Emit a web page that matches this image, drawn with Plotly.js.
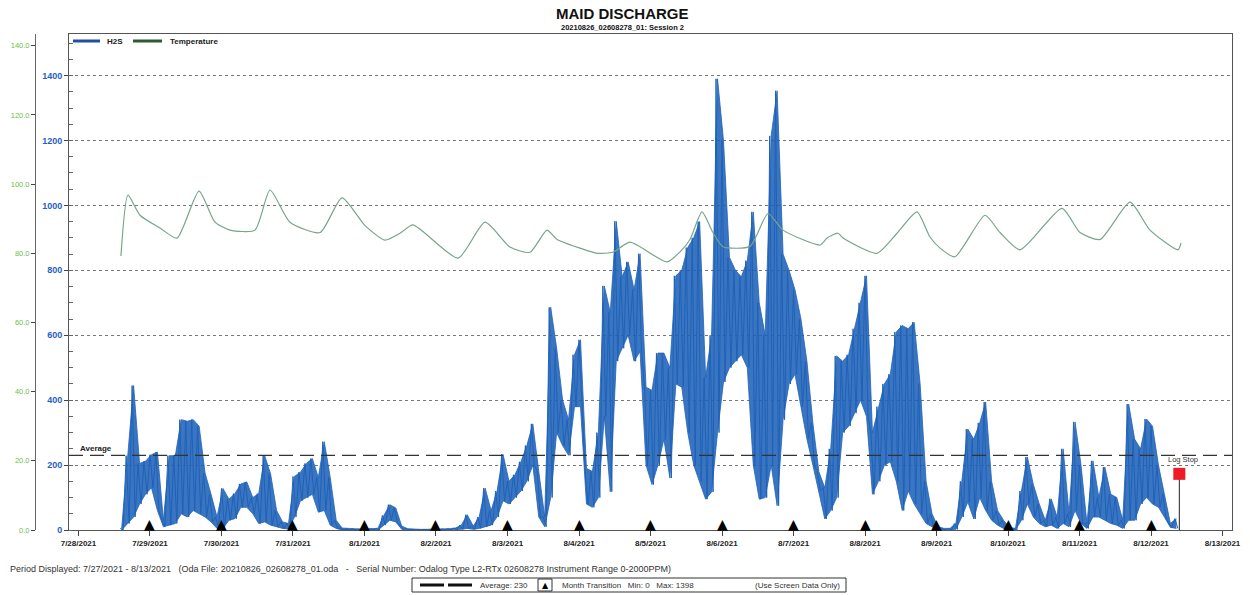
<!DOCTYPE html>
<html><head><meta charset="utf-8">
<script src="https://cdn.plot.ly/plotly-3.0.1.min.js"></script>
<style>html,body{margin:0;padding:0;background:#fff;} #chart{width:1250px;height:595px;}</style>
</head><body><div id="chart"></div>
<script>
// ---------- DATA ----------
// H2S readings: for each 2-hour window starting 7/28/2021 14:00, the high and low of the trace (ppm)
const h2sStart = Date.UTC(2021, 6, 28, 14, 0);
const h2sStepHours = 2;
const h2sHigh = [
  5, 229, 445, 205, 212,                                   // 7/28 14h-22h
  232, 240, 30, 229, 229, 340, 335, 340, 320, 175, 110, 40, // 7/29
  128, 95, 112, 142, 148, 100, 112, 229, 172, 60, 25, 20,   // 7/30
  165, 178, 205, 220, 162, 272, 162, 30, 6, 4, 4, 3,        // 7/31
  3, 4, 5, 45, 78, 68, 12, 4, 2, 2, 2, 2,                   // 8/1
  3, 3, 4, 6, 15, 47, 12, 40, 129, 60, 120, 233,            // 8/2
  150, 170, 210, 260, 327, 180, 40, 686, 560, 400, 340, 540, // 8/3
  586, 190, 180, 300, 752, 670, 951, 780, 826, 740, 851, 440, // 8/4
  430, 545, 545, 500, 783, 800, 870, 900, 950, 470, 600, 1390, // 8/5
  1200, 840, 800, 780, 830, 980, 700, 600, 1214, 1353, 850, 800, // 8/6
  740, 650, 520, 330, 180, 130, 250, 536, 520, 540, 620, 700, // 8/7
  783, 300, 380, 450, 480, 610, 630, 620, 640, 450, 150, 50,  // 8/8
  10, 5, 5, 20, 150, 311, 280, 330, 394, 150, 60, 30,         // 8/9
  8, 5, 120, 225, 140, 80, 30, 96, 40, 250, 50, 333,          // 8/10
  200, 20, 213, 100, 194, 110, 100, 30, 388, 280, 250, 342,   // 8/11
  320, 200, 110, 20, 35                                       // 8/12 0h-8h
];
const h2sLow = [
  0, 20, 40, 80, 110,
  130, 60, 10, 15, 20, 50, 40, 60, 50, 40, 25, 5,
  5, 30, 35, 70, 70, 50, 20, 25, 15, 10, 5, 3,
  40, 90, 100, 110, 55, 60, 15, 5, 0, 0, 0, 0,
  0, 0, 0, 15, 30, 25, 2, 0, 0, 0, 0, 0,
  0, 0, 0, 0, 2, 5, 2, 5, 10, 15, 40, 90,
  80, 100, 120, 150, 200, 40, 10, 100, 300, 260, 230, 380,
  380, 80, 70, 100, 350, 118, 520, 560, 600, 520, 550, 200,
  140, 200, 280, 160, 450, 440, 300, 200, 150, 95, 117, 300,
  456, 500, 520, 540, 500, 200, 95, 100, 200, 75, 340, 450,
  480, 380, 280, 200, 120, 34, 60, 100, 300, 320, 360, 400,
  350, 110, 150, 200, 210, 150, 60, 120, 80, 50, 20, 10,
  0, 0, 0, 2, 40, 86, 34, 100, 60, 30, 15, 5,
  0, 0, 30, 80, 40, 20, 10, 15, 5, 20, 10, 60,
  20, 5, 40, 40, 30, 20, 15, 5, 30, 30, 80, 100,
  80, 70, 40, 8, 5
];

// Temperature trace (green scale drawn on the far left)
const tempTimes = [
  '2021-07-28 14:15','2021-07-28 16:37','2021-07-28 20:38','2021-07-29 03:21','2021-07-29 09:04',
  '2021-07-29 16:27','2021-07-29 21:49','2021-07-30 02:51','2021-07-30 11:15','2021-07-30 16:17',
  '2021-07-30 23:00','2021-07-31 09:04','2021-07-31 16:27','2021-08-01 00:10','2021-08-01 06:53',
  '2021-08-01 11:56','2021-08-01 16:16','2021-08-02 07:24','2021-08-02 16:27','2021-08-03 00:50',
  '2021-08-03 07:34','2021-08-03 13:15','2021-08-03 16:37','2021-08-04 00:20','2021-08-04 06:03',
  '2021-08-04 11:25','2021-08-04 17:07','2021-08-05 05:32','2021-08-05 10:00','2021-08-05 13:15',
  '2021-08-05 17:17','2021-08-05 20:58','2021-08-06 00:20','2021-08-06 09:24','2021-08-06 15:26',
  '2021-08-06 20:28','2021-08-07 08:54','2021-08-07 11:15','2021-08-07 14:56','2021-08-07 16:37',
  '2021-08-08 04:02','2021-08-08 10:45','2021-08-08 17:27','2021-08-08 21:49','2021-08-09 01:11',
  '2021-08-09 06:13','2021-08-09 16:17','2021-08-09 21:18','2021-08-10 04:02','2021-08-10 18:07',
  '2021-08-11 00:10','2021-08-11 06:53','2021-08-11 16:57','2021-08-11 23:40','2021-08-12 09:04',
  '2021-08-12 10:05'
];
const tempValues = [
  79.2, 96.8, 91, 87.3, 84.4,
  98, 89, 86.7, 86.7, 98.3,
  89, 86, 96, 88, 83.8,
  85.8, 88.2, 78.6, 89, 81.8,
  80.3, 86.7, 84, 81.5, 80,
  80.3, 83.2, 77.5, 80.5, 84,
  92, 86, 81.9, 82, 91.5,
  86.7, 82.4, 84.4, 85.8, 84.4,
  80, 85.8, 92, 84.7, 81.5,
  79, 91, 86, 81, 93,
  86, 84, 94.8, 86.7, 81,
  83
];

const transitionDates = ['2021-07-29','2021-07-30','2021-07-31','2021-08-01','2021-08-02','2021-08-03',
  '2021-08-04','2021-08-05','2021-08-06','2021-08-07','2021-08-08','2021-08-09','2021-08-10',
  '2021-08-11','2021-08-12'];
const averageH2S = 230;
const minH2S = 0;
const maxH2S = 1398;
const logStopTime = ['2021-08-12 09:30'];
const logStopValue = [173];

// ---------- BUILD ----------
const fmt = ms => new Date(ms).toISOString().slice(0, 19).replace('T', ' ');
const zigX = [], zigY = [], bandX = [];
for (let i = 0; i < h2sHigh.length; i++) {
  const t = h2sStart + i * h2sStepHours * 3600000;
  bandX.push(fmt(t + 1800000));
  zigX.push(fmt(t)); zigY.push(h2sHigh[i]);
  zigX.push(fmt(t + 3600000)); zigY.push(h2sLow[i]);
}

const W = 1250, H = 595, L = 35, R = 18, T = 34, B = 65;
const PW = W - L - R, PH = H - T - B;
const px = v => (v - L) / PW;
const py = v => (H - B - v) / PH;
const FONT = 'Arial, "Liberation Sans", sans-serif';
const xDomStart = px(69);
const BLUE = '#1f62b8';

const traces = [
  { x: bandX, y: h2sLow, type: 'scatter', mode: 'lines', line: { color: BLUE, width: 0.8 },
    showlegend: false, hoverinfo: 'skip' },
  { x: bandX, y: h2sHigh, type: 'scatter', mode: 'lines', line: { color: BLUE, width: 0.8 },
    fill: 'tonexty', fillcolor: 'rgba(31,98,184,0.88)', showlegend: false, hoverinfo: 'skip' },
  { x: zigX, y: zigY, type: 'scatter', mode: 'lines', name: 'H2S',
    line: { color: BLUE, width: 1 }, showlegend: false, hoverinfo: 'skip' },
  { x: tempTimes, y: tempValues, yaxis: 'y2', type: 'scatter', mode: 'lines', name: 'Temperature',
    line: { color: '#76a58a', width: 1.2, shape: 'spline', smoothing: 0.6 }, showlegend: false },
  { x: [logStopTime[0], logStopTime[0]], y: [0, logStopValue[0]], type: 'scatter', mode: 'lines',
    line: { color: '#222', width: 1 }, showlegend: false },
  { x: logStopTime, y: logStopValue, type: 'scatter', mode: 'markers',
    marker: { symbol: 'square', size: 12, color: '#ee1c25' }, showlegend: false }
];

const A = (text, x, y, size, extra) => Object.assign({
  text, xref: 'paper', yref: 'paper', x: px(x), y: py(y), showarrow: false,
  xanchor: 'left', yanchor: 'middle', font: { family: FONT, size, color: '#222' }
}, extra || {});

const annotations = [
  A('MAID DISCHARGE', 622, 13, 15, { xanchor: 'center', font: { family: FONT, size: 15, color: '#111', weight: 'bold' } }),
  A('20210826_02608278_01: Session 2', 622, 28, 7.5, { xanchor: 'center', font: { family: FONT, size: 7.5, color: '#111', weight: 'bold' } }),
  A('H2S', 105, 41, 8, { font: { family: FONT, size: 8, color: '#222', weight: 'bold' } }),
  A('Temperature', 168, 41, 8, { font: { family: FONT, size: 8, color: '#222', weight: 'bold' } }),
  { text: 'Average', xref: 'paper', yref: 'y', x: px(78), y: averageH2S, xanchor: 'left', yanchor: 'bottom',
    showarrow: false, font: { family: FONT, size: 8, color: '#222', weight: 'bold' } },
  { text: 'Log Stop', xref: 'x', yref: 'y', x: logStopTime[0], y: logStopValue[0], yanchor: 'bottom', yshift: 8,
    xshift: 4, showarrow: false, font: { family: FONT, size: 7.5, color: '#333' } },
  A('Period Displayed: 7/27/2021 - 8/13/2021   (Oda File: 20210826_02608278_01.oda   -   Serial Number: Odalog Type L2-RTx 02608278 Instrument Range 0-2000PPM)',
    8, 569, 9, { font: { family: FONT, size: 9, color: '#333' } }),
  A('Average: ' + averageH2S, 478, 585, 8, { font: { family: FONT, size: 8, color: '#333' } }),
  A('▲', 545, 585, 8, { xanchor: 'center', font: { family: 'DejaVu Sans', size: 8, color: '#000' } }),
  A('Month Transition   Min: ' + minH2S + '   Max: ' + maxH2S, 560, 585, 8, { font: { family: FONT, size: 8, color: '#333' } }),
  A('(Use Screen Data Only)', 842, 585, 8, { xanchor: 'right', font: { family: FONT, size: 8, color: '#333' } })
];
transitionDates.forEach(d => annotations.push({
  text: '▲', xref: 'x', yref: 'y', x: d, y: 0, yanchor: 'bottom', yshift: -4, showarrow: false,
  font: { family: 'DejaVu Sans', size: 14, color: '#000' }
}));

const shapes = [
  { type: 'line', xref: 'paper', yref: 'y', x0: xDomStart, x1: 1, y0: averageH2S, y1: averageH2S,
    line: { color: '#333', width: 1.3, dash: '14px,7px' } },
  { type: 'line', xref: 'paper', yref: 'paper', x0: px(73), x1: px(100), y0: py(41), y1: py(41),
    line: { color: '#1f4f9f', width: 3 } },
  { type: 'line', xref: 'paper', yref: 'paper', x0: px(133), x1: px(162), y0: py(41), y1: py(41),
    line: { color: '#2f5a2f', width: 3 } },
  { type: 'rect', xref: 'paper', yref: 'paper', x0: px(412), x1: px(846), y0: py(578), y1: py(592),
    line: { color: '#333', width: 1 } },
  { type: 'line', xref: 'paper', yref: 'paper', x0: px(420), x1: px(444), y0: py(585), y1: py(585),
    line: { color: '#111', width: 3 } },
  { type: 'line', xref: 'paper', yref: 'paper', x0: px(448), x1: px(472), y0: py(585), y1: py(585),
    line: { color: '#111', width: 3 } },
  { type: 'rect', xref: 'paper', yref: 'paper', x0: px(538), x1: px(552), y0: py(579), y1: py(591),
    line: { color: '#333', width: 1 } }
];

const layout = {
  width: W, height: H,
  margin: { l: L, r: R, t: T, b: B },
  paper_bgcolor: '#fff', plot_bgcolor: '#fff',
  font: { family: FONT, size: 8, color: '#222' },
  showlegend: false,
  xaxis: {
    type: 'date', domain: [xDomStart, 1],
    range: ['2021-07-27 20:49', '2021-08-13 03:11'],
    tick0: '2021-07-28', dtick: 86400000, tickformat: '%-m/%-d/%Y',
    ticks: 'outside', ticklen: 5, tickcolor: '#444',
    showline: true, mirror: true, linecolor: '#555', linewidth: 1,
    showgrid: false, zeroline: false,
    tickfont: { family: FONT, size: 8, color: '#222', weight: 'bold' }
  },
  yaxis: {
    range: [0, 1528], dtick: 200, tick0: 0,
    ticks: 'outside', ticklen: 4, tickcolor: '#444',
    showline: true, mirror: true, linecolor: '#555', linewidth: 1,
    showgrid: true, gridcolor: '#777', griddash: 'dot', gridwidth: 1,
    zeroline: false,
    minor: { dtick: 50, ticks: 'inside', ticklen: 4, tickcolor: '#666', showgrid: false },
    tickfont: { family: FONT, size: 9, color: '#1f5fc8', weight: 'bold' }
  },
  yaxis2: {
    overlaying: 'y', anchor: 'free', position: 0, side: 'left',
    range: [0, 143.4], dtick: 20, tick0: 0, tickformat: '.1f',
    ticks: 'outside', ticklen: 4, tickcolor: '#444',
    showline: true, linecolor: '#666', linewidth: 1,
    showgrid: false, zeroline: false,
    tickfont: { family: FONT, size: 7.5, color: '#6cc04a' }
  },
  annotations: annotations,
  shapes: shapes
};

Plotly.newPlot('chart', traces, layout, { staticPlot: true, displayModeBar: false });
</script>
</body></html>
